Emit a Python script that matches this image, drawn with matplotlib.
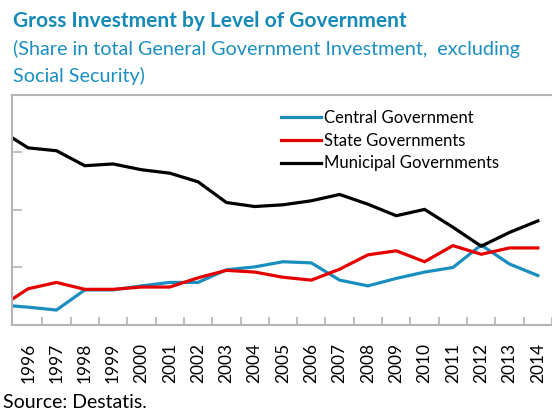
import matplotlib.pyplot as plt
import numpy as np

plt.rcParams['font.family'] = ['Lato', 'DejaVu Sans']

years = np.arange(1995, 2015)
# shares in %, 1995-2014
central = [23.5, 23.1, 22.6, 26.1, 26.1, 26.8, 27.4, 27.4, 29.6, 30.1,
           31.0, 30.8, 27.8, 26.8, 28.1, 29.2, 30.0, 33.9, 30.6, 28.6]
state = [23.1, 26.3, 27.4, 26.2, 26.2, 26.6, 26.6, 28.2, 29.5, 29.2,
         28.3, 27.8, 29.7, 32.2, 32.9, 31.0, 33.8, 32.3, 33.4, 33.4]
municipal = [53.9, 50.8, 50.3, 47.7, 48.0, 47.0, 46.4, 44.9, 41.3, 40.6,
             40.9, 41.6, 42.7, 41.0, 39.0, 40.1, 37.0, 33.7, 36.1, 38.1]
labels = ['Central Government', 'State Governments', 'Municipal Governments']
colors = ['#1a8fbf', '#e50000', '#000000']

fig = plt.figure(figsize=(5.52, 4.12), dpi=100)
ax = fig.add_axes([0.0223, 0.2112, 0.9777, 0.5583])

for vals, lab, col in zip([central, state, municipal], labels, colors):
    ax.plot(years, vals, color=col, lw=2.3, label=lab, solid_joinstyle='miter')

ax.set_xlim(1995.44, 2014.22)
ax.set_ylim(20, 60)

# year labels under the points, tick marks between them
ax.set_xticks(years[1:])
ax.set_xticklabels([str(y) for y in years[1:]], rotation=90, fontsize=12.5)
ax.tick_params(axis='x', which='major', length=0, pad=13)
ax.set_xticks(years[1:] + 0.5, minor=True)
ax.tick_params(axis='x', which='minor', direction='in', length=6, width=1.2, color='#b4b4b4')
ax.set_yticks([30, 40, 50])
ax.set_yticklabels([])
ax.tick_params(axis='y', direction='in', length=7, width=1.2, color='#b4b4b4')

ax.spines['right'].set_visible(False)
for s in ['left', 'top', 'bottom']:
    ax.spines[s].set_color('#b4b4b4')
    ax.spines[s].set_linewidth(1.5)

ax.legend(loc='upper left', bbox_to_anchor=(281/552, 1 - 110/412), bbox_transform=fig.transFigure,
          frameon=False, fontsize=12, handlelength=2.4, handletextpad=0.2,
          labelspacing=0.4, borderpad=0, borderaxespad=0)

fig.text(13/552, 1 - 21/412, 'Gross Investment by Level of Government', color='#1589b8',
         fontsize=15, fontweight='bold', va='center')
fig.text(13/552, 1 - 49/412, '(Share in total General Government Investment,  excluding',
         color='#1a8fc0', fontsize=14.2, va='center')
fig.text(13/552, 1 - 76/412, 'Social Security)', color='#1a8fc0', fontsize=14.2, va='center')
fig.text(3/552, 1 - 403/412, 'Source: Destatis.', color='black', fontsize=14, va='center')

fig.savefig('out.png', dpi=100)
